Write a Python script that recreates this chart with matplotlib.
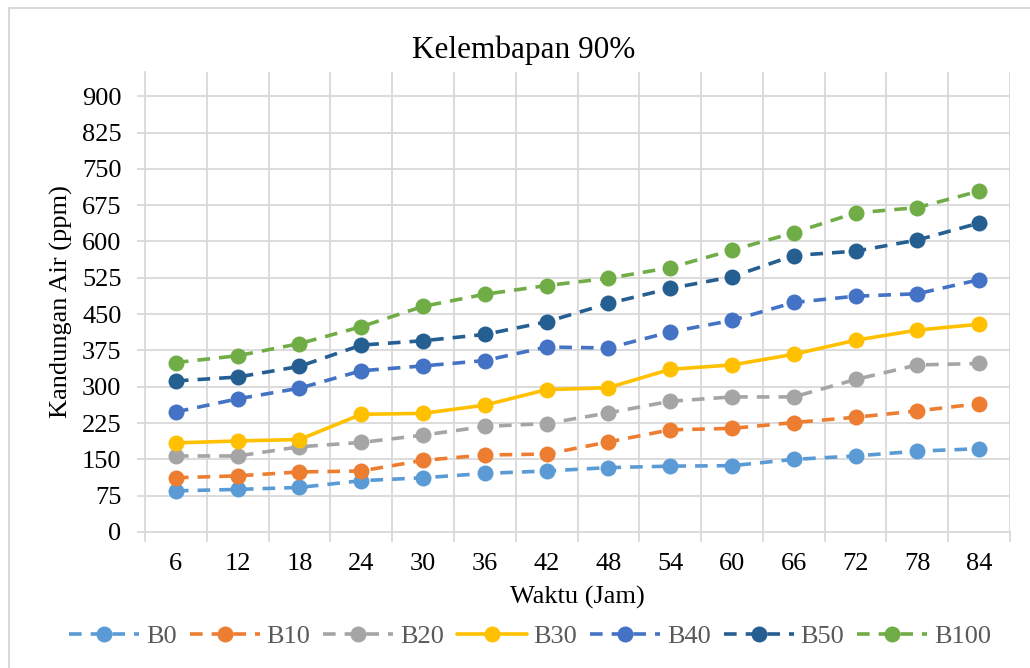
import matplotlib.pyplot as plt
from matplotlib.lines import Line2D
import numpy as np

plt.rcParams['font.family'] = ['Liberation Serif', 'DejaVu Serif']

# waktu pengamatan (jam)
waktu = [6, 12, 18, 24, 30, 36, 42, 48, 54, 60, 66, 72, 78, 84]

b0 = [85, 88, 92, 106, 112, 121, 126, 133, 136, 137, 150, 157, 167, 172]
b10 = [112, 116, 124, 126, 148, 159, 161, 186, 211, 214, 226, 237, 250, 265]
b20 = [157, 157, 176, 185, 200, 218, 224, 246, 270, 279, 279, 315, 345, 348]
b30 = [184, 188, 191, 243, 245, 262, 294, 298, 336, 345, 367, 396, 417, 429]
b40 = [248, 275, 297, 333, 343, 354, 382, 380, 413, 437, 474, 487, 492, 521]
b50 = [312, 320, 342, 386, 395, 408, 434, 472, 503, 527, 571, 580, 603, 638]
b100 = [350, 364, 389, 424, 466, 491, 509, 524, 546, 582, 618, 659, 670, 704]

names = ['B0', 'B10', 'B20', 'B30', 'B40', 'B50', 'B100']
series = [b0, b10, b20, b30, b40, b50, b100]
warna = ['#5B9BD5', '#ED7D31', '#A5A5A5', '#FFC000', '#4472C4', '#255E91', '#70AD47']

fig = plt.figure(figsize=(10.3, 6.68), dpi=100)
W, H = 1030, 668
ax = fig.add_axes([145 / W, (H - 532) / H, (1010 - 145) / W, (532 - 72) / H])

x = np.arange(len(waktu))
for nama, y, c in zip(names, series, warna):
    ls = '-' if nama == 'B30' else (0, (3.5, 2.5))
    ax.plot(x, y, color=c, lw=2.6, linestyle=ls, marker='o', markersize=11.5,
            markeredgewidth=0, label=nama, solid_capstyle='round')

ax.set_xlim(-0.5, len(waktu) - 0.5)
ax.set_ylim(0, 950)
ax.set_yticks(np.arange(0, 901, 75))
ax.set_xticks(x)
ax.set_xticklabels([str(w) for w in waktu])
ax.set_xticks(np.arange(-0.5, len(waktu)), minor=True)

gc = '#d9d9d9'
ax.grid(True, axis='y', which='major', color=gc, lw=1.3)
ax.grid(True, axis='x', which='minor', color=gc, lw=1.3)
ax.grid(False, axis='x', which='major')
ax.set_axisbelow(True)
for s in ['top', 'right']:
    ax.spines[s].set_visible(False)
ax.spines['left'].set_color(gc)
ax.spines['bottom'].set_color(gc)
ax.spines['left'].set_linewidth(1.3)
ax.spines['bottom'].set_linewidth(1.3)
ax.spines['left'].set_bounds(0, 950)

fs = 19
ax.tick_params(axis='y', which='major', length=6, color=gc, width=1.3,
               labelsize=fs, pad=11)
ax.tick_params(axis='x', which='major', length=0, labelsize=fs, pad=15)
ax.tick_params(axis='x', which='minor', length=7, color=gc, width=1.3)

ax.set_ylabel('Kandungan Air (ppm)', fontsize=fs, labelpad=6)
ax.set_xlabel('Waktu (Jam)', fontsize=fs, labelpad=8)
fig.text(524 / W, 1 - 50 / H, 'Kelembapan 90%',
         ha='center', va='center', fontsize=22.5)

leg = ax.legend(loc='center', bbox_to_anchor=(530 / W, 1 - 636 / H),
                bbox_transform=fig.transFigure, ncol=7, frameon=False,
                fontsize=fs, handlelength=2.65, handletextpad=0.25,
                columnspacing=0.5)
for t in leg.get_texts():
    t.set_color('#595959')

# bingkai luar grafik
fig.add_artist(Line2D([9 / W, 9 / W], [0, 1 - 8 / H], color=gc, lw=1.5))
fig.add_artist(Line2D([9 / W, 1], [1 - 8 / H, 1 - 8 / H], color=gc, lw=1.5))

fig.savefig('out.png', dpi=100)
